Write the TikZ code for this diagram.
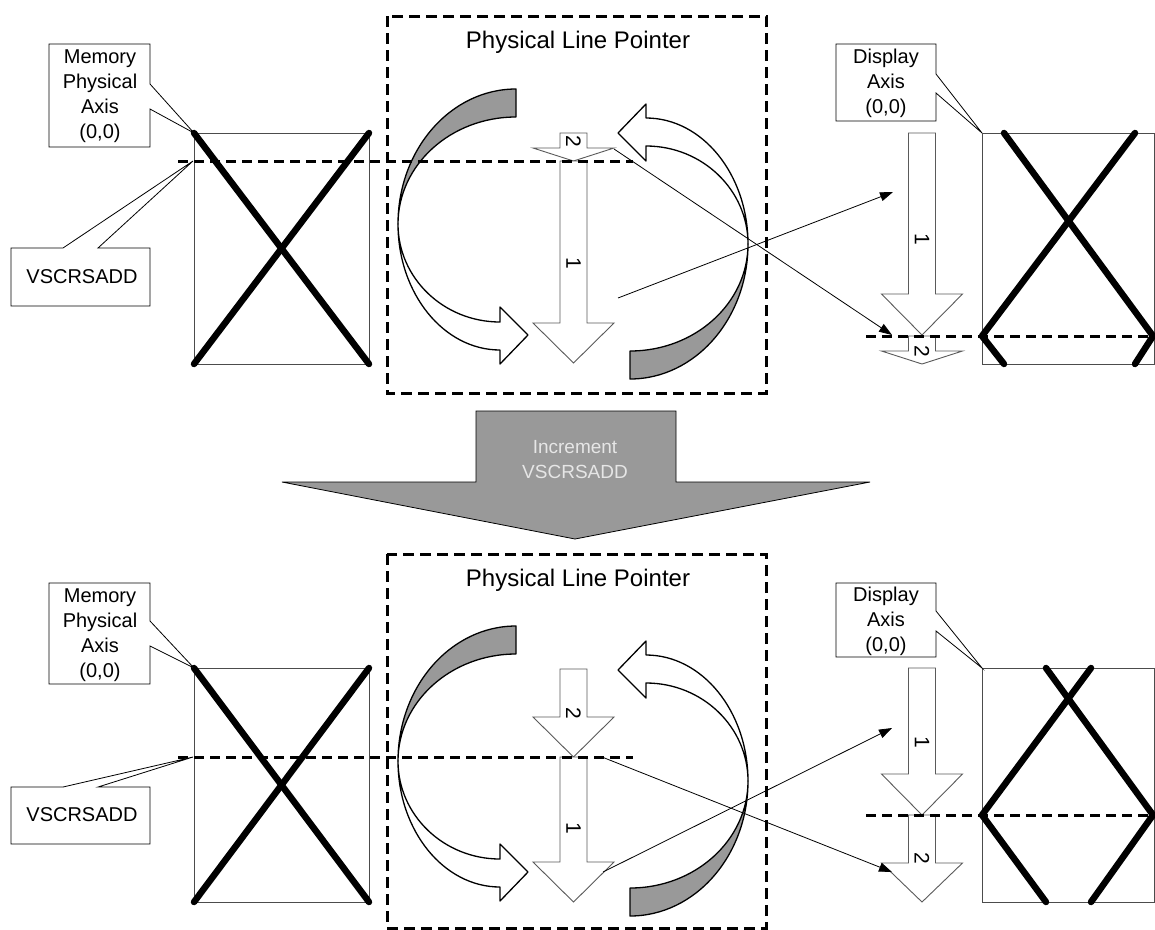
\documentclass[tikz,border=0pt]{standalone}
\usepackage{fontspec}
\setmainfont{Liberation Sans}
\usetikzlibrary{arrows.meta}
\definecolor{bandgray}{HTML}{999999}
\definecolor{arrowline}{HTML}{5A5A5A}
\definecolor{lighttext}{HTML}{E6E6E6}
\newcommand\blockarrow[4]{%
  \draw[blockarr] (#1-13.5,#2) -- (#1+13.5,#2) -- (#1+13.5,#3) -- (#1+40.5,#3)
    -- (#1,#4) -- (#1-40.5,#3) -- (#1-13.5,#3) -- cycle;}
\newcommand\curvedpair{%
  \draw[band] (516,89) .. controls (450.8,89) and (398,149.4) .. (398,224)
    .. controls (398,164.9) and (450.8,117) .. (516,117) -- cycle;
  \draw[curvearr, fill=white] (398,224) .. controls (398,293.6) and (443.7,350) .. (500,350)
    -- (500,364) -- (528,335) -- (500,307) -- (500,322)
    .. controls (443.7,322) and (398,278.1) .. (398,224) -- cycle;
  \begin{scope}[rotate around={180:(573,234)}]
  \draw[band] (516,89) .. controls (450.8,89) and (398,149.4) .. (398,224)
    .. controls (398,164.9) and (450.8,117) .. (516,117) -- cycle;
  \draw[curvearr, fill=white] (398,224) .. controls (398,293.6) and (443.7,350) .. (500,350)
    -- (500,364) -- (528,335) -- (500,307) -- (500,322)
    .. controls (443.7,322) and (398,278.1) .. (398,224) -- cycle;
  \end{scope}}
\begin{document}
\begin{tikzpicture}[x=1pt,y=-1pt,
  calloutbox/.style={draw=black, line width=0.8pt, fill=white, line join=miter},
  frame/.style={draw=black!70, line width=0.9pt},
  xline/.style={line width=6.5pt, line cap=round, line join=round},
  scanline/.style={line width=3pt, dash pattern=on 10pt off 6pt},
  plpbox/.style={draw, line width=3pt, dash pattern=on 11pt off 6pt},
  blockarr/.style={draw=arrowline, line width=0.9pt, fill=white},
  curvearr/.style={draw=black, line width=1.3pt, line join=round},
  band/.style={curvearr, fill=bandgray},
  conn/.style={line width=0.8pt, -{Triangle[length=13pt,width=9pt]}},
  lbl/.style={font=\fontsize{20}{25}\selectfont, align=center, inner sep=0pt},
  numlbl/.style={font=\fontsize{21}{21}\selectfont, rotate=-90, inner sep=0pt},
  ttl/.style={font=\fontsize{24}{28}\selectfont, inner sep=0pt}
]
\useasboundingbox (0,0) rectangle (1155,929);
\fill[white] (0,0) rectangle (1155,929);

% ================= TOP =================
\draw[plpbox] (387,16) rectangle (766,393);
\node[ttl] (plpT) at (578,42) {Physical Line Pointer};
\curvedpair
\blockarrow{573.5}{133}{148}{161}
\blockarrow{573.5}{161}{323}{363}
\node[numlbl] (t2c) at (573.5,141) {2};
\node[numlbl] (t1c) at (573.5,263) {1};

% memory
\draw[frame] (194,133) rectangle (369,364);
\draw[xline] (194,133) -- (369,364);
\draw[xline] (369,133) -- (194,364);
\draw[scanline] (178,161) -- (633,161);

% display
\blockarrow{922}{133}{294}{335}
\blockarrow{922}{336}{351}{364}
\node[numlbl] (t1d) at (922,239) {1};
\node[numlbl] (t2d) at (922,351) {2};
\draw[frame] (982,133) rectangle (1154,364);
\draw[xline] (1004,133) -- (1153,336) -- (1135,364);
\draw[xline] (1135,133) -- (982,336) -- (1004,364);
\draw[scanline] (866,336) -- (1155,336);

% callouts
\draw[calloutbox] (49,44) -- (150,44) -- (150,84) -- (194,133) -- (150,109) -- (150,147) -- (49,147) -- cycle;
\node[lbl] (memT) at (100,96) {Memory\\Physical\\Axis\\(0,0)};
\draw[calloutbox] (836,44) -- (936,44) -- (936,74) -- (982,133) -- (936,93) -- (936,121) -- (836,121) -- cycle;
\node[lbl] (dispT) at (886,83) {Display\\Axis\\(0,0)};
\draw[calloutbox] (11,248) -- (63,248) -- (193,161) -- (98,248) -- (150,248) -- (150,306) -- (11,306) -- cycle;
\node[lbl] (vsT) at (82,277) {VSCRSADD};

% connectors
\coordinate (a1s) at (618,298);
\coordinate (a1e) at (893,192);
\coordinate (a2s) at (614,149);
\coordinate (a2e) at (892,335);
\draw[conn] (a1s) -- (a1e);
\draw[conn] (a2s) -- (a2e);

% ================= MIDDLE ARROW =================
\draw[fill=bandgray, draw=black, line width=0.8pt] (476,411) -- (676,411) -- (676,482) -- (870,482)
  -- (575,539) -- (282,482) -- (476,482) -- cycle;
\node[font=\fontsize{19}{25}\selectfont, align=center, text=lighttext, inner sep=0pt] (inc) at (575,460) {Increment\\VSCRSADD};

% ================= BOTTOM =================
\draw[plpbox] (387,554) rectangle (766,928);
\node[ttl] (plpB) at (578,580) {Physical Line Pointer};
\begin{scope}[shift={(0,537)}]
\curvedpair
\end{scope}
\blockarrow{573.5}{669}{717}{757}
\blockarrow{573.5}{757}{862}{902}
\node[numlbl] (b2c) at (573.5,713) {2};
\node[numlbl] (b1c) at (573.5,828) {1};

\draw[frame] (194,668) rectangle (369,902);
\draw[xline] (194,668) -- (369,902);
\draw[xline] (369,668) -- (194,902);
\draw[scanline] (178,757) -- (633,757);

\blockarrow{922}{668}{774}{815}
\blockarrow{922}{815}{863}{902}
\node[numlbl] (b1d) at (922,742) {1};
\node[numlbl] (b2d) at (922,858) {2};
\draw[frame] (982,668) rectangle (1154,902);
\draw[xline] (1046,668) -- (1153,815) -- (1091,902);
\draw[xline] (1091,668) -- (982,815) -- (1046,902);
\draw[scanline] (866,815) -- (1155,815);

\draw[calloutbox] (49,583) -- (150,583) -- (150,621) -- (194,668) -- (150,646) -- (150,684) -- (49,684) -- cycle;
\node[lbl] (memB) at (100,635) {Memory\\Physical\\Axis\\(0,0)};
\draw[calloutbox] (836,583) -- (936,583) -- (936,611) -- (982,668) -- (936,631) -- (936,657) -- (836,657) -- cycle;
\node[lbl] (dispB) at (886,621) {Display\\Axis\\(0,0)};
\draw[calloutbox] (11,787) -- (63,787) -- (193,757) -- (98,787) -- (150,787) -- (150,844) -- (11,844) -- cycle;
\node[lbl] (vsB) at (82,815) {VSCRSADD};

\coordinate (b1s) at (602,757);
\coordinate (b1e) at (892,872);
\coordinate (b2s) at (603,872);
\coordinate (b2e) at (892,728);
\draw[conn] (b1s) -- (b1e);
\draw[conn] (b2s) -- (b2e);
\end{tikzpicture}
\end{document}
